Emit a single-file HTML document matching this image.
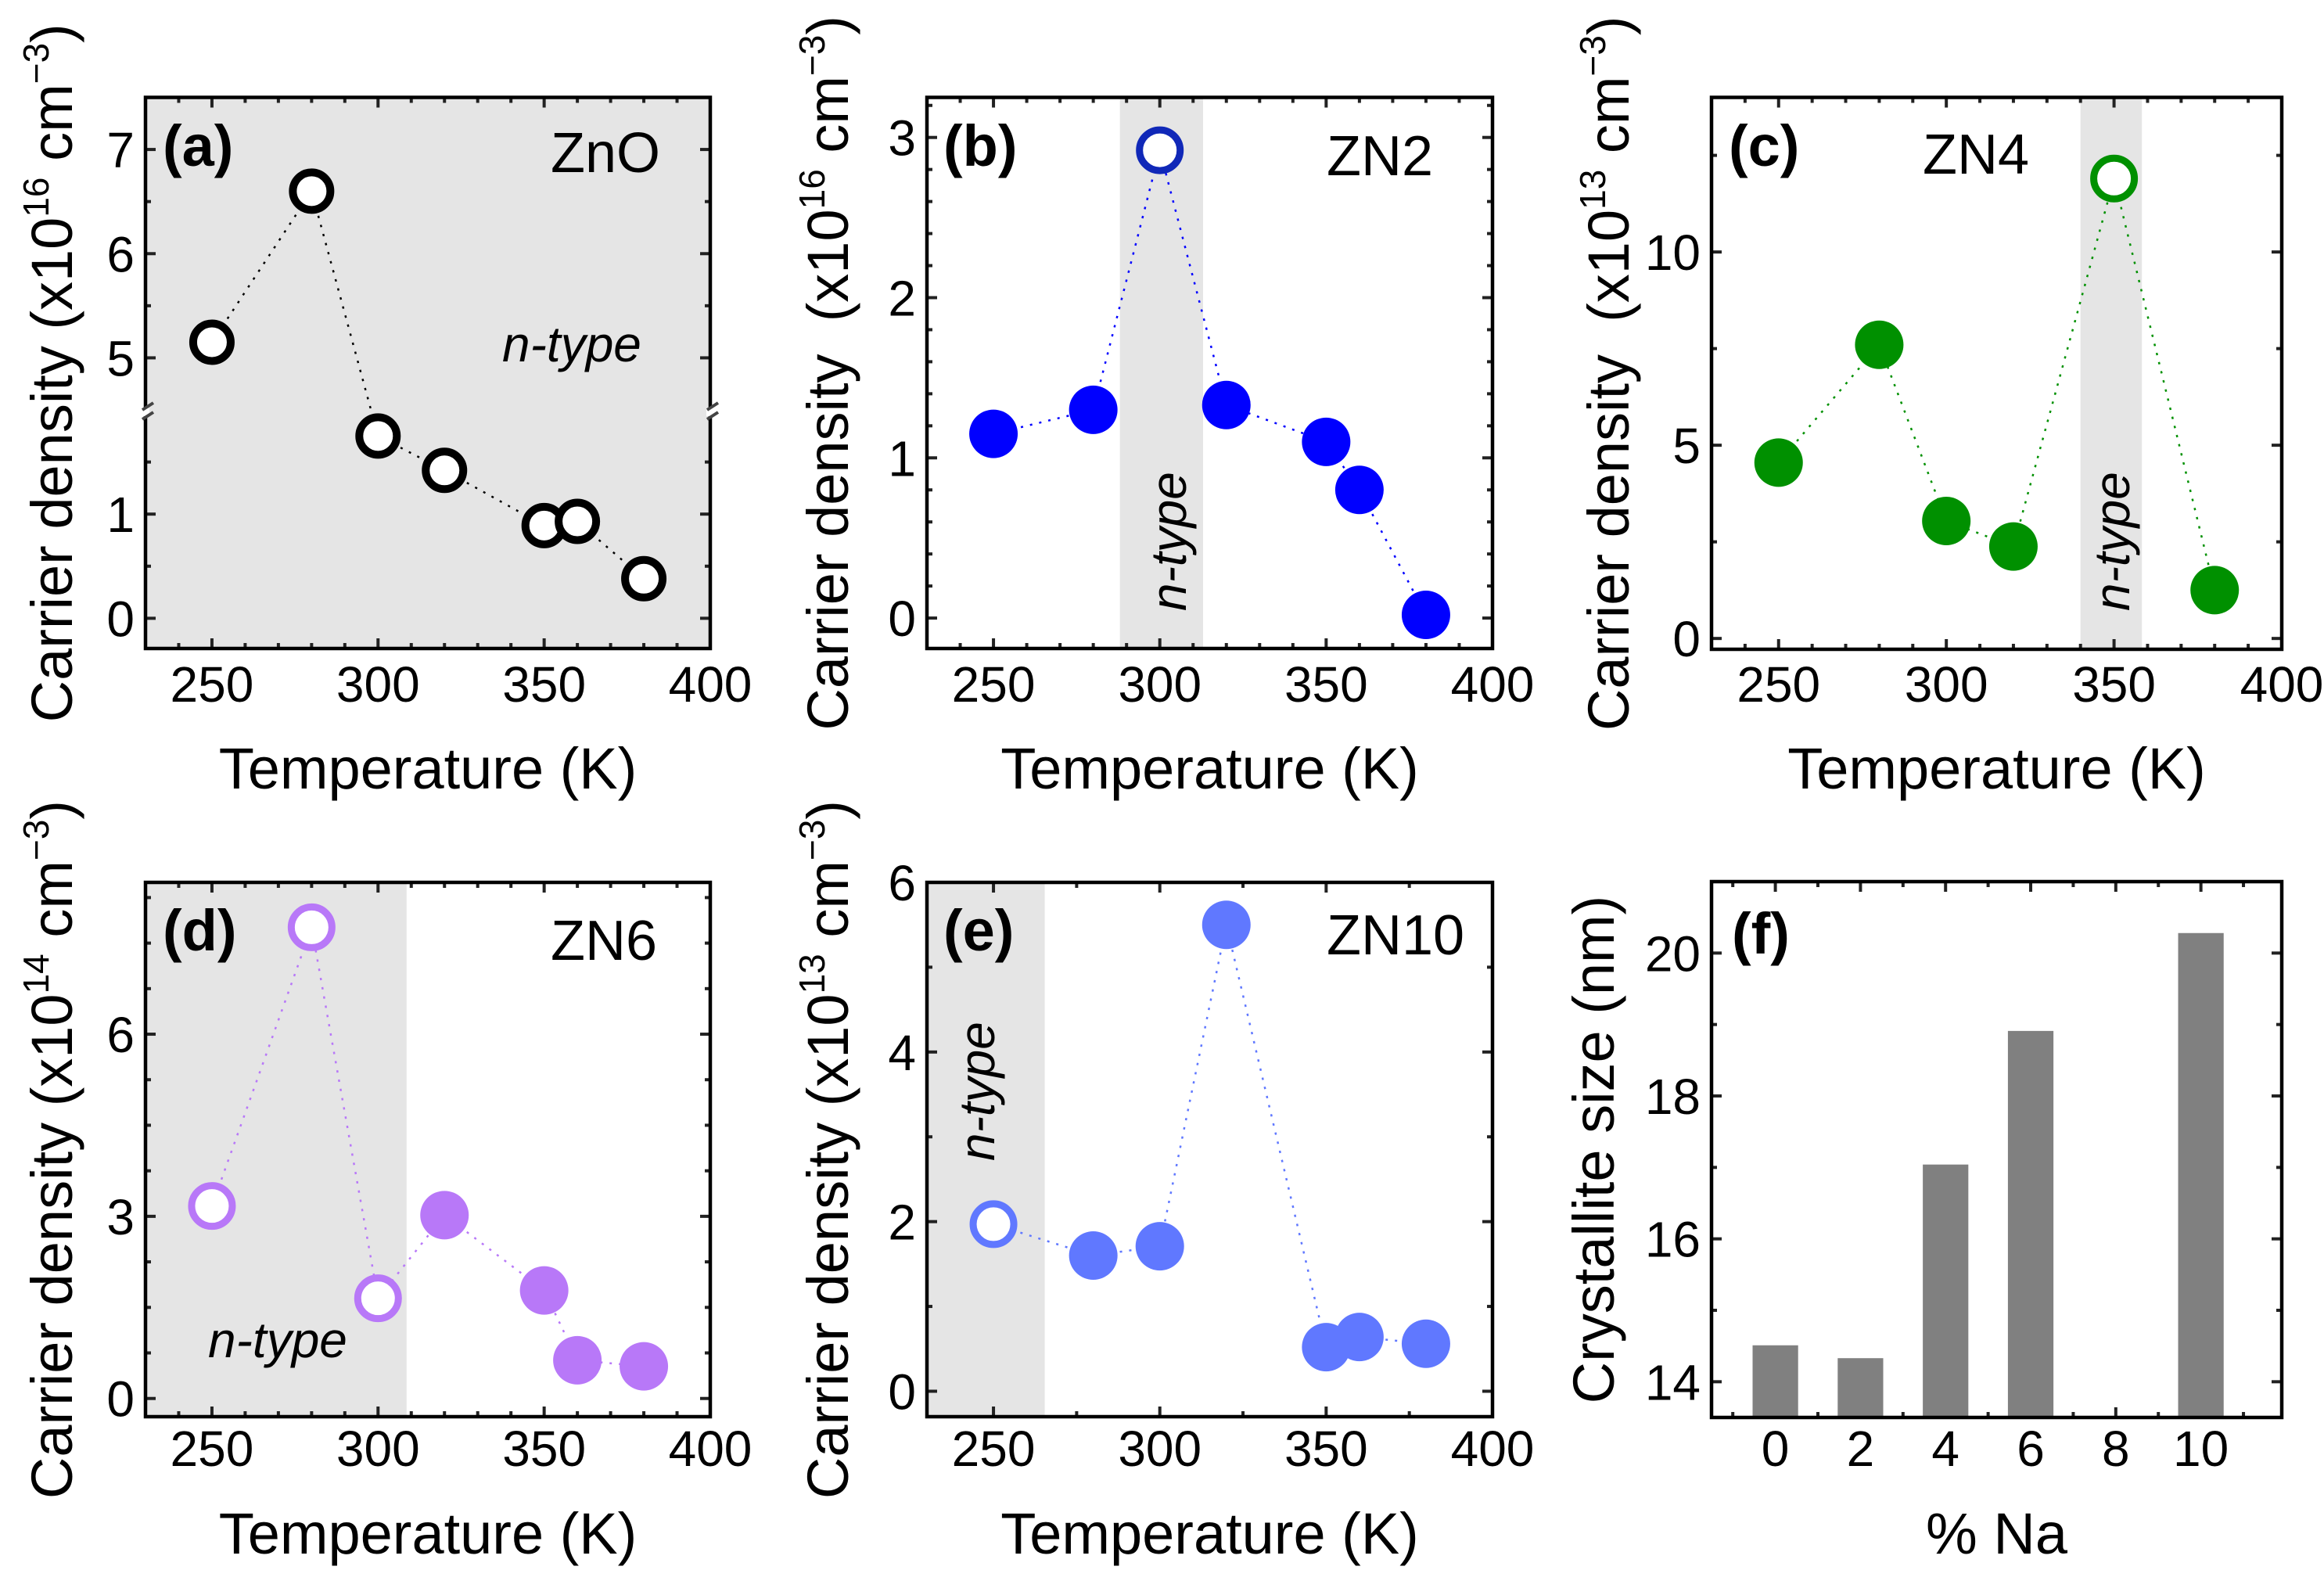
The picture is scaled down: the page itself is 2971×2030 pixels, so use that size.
<!DOCTYPE html>
<html><head><meta charset="utf-8"><style>
html,body{margin:0;padding:0;background:#fff;}
svg{display:block;font-family:"Liberation Sans",Arial,sans-serif;}
</style></head><body>
<svg id="fig" width="2971" height="2030" viewBox="0 0 2971 2030" xmlns="http://www.w3.org/2000/svg"></svg>
<script>
// ---- data ----
const temps = [250, 280, 300, 320, 350, 360, 380];
const tempsC = [250, 280, 300, 320, 350, 380];
const densA = [5.15, 6.6, 1.75, 1.42, 0.89, 0.93, 0.38];
const openA = [1, 1, 1, 1, 1, 1, 1];
const densB = [1.15, 1.3, 2.92, 1.33, 1.1, 0.8, 0.02];
const openB = [0, 0, 1, 0, 0, 0, 0];
const densC = [4.55, 7.6, 3.04, 2.38, 11.9, 1.25];
const openC = [0, 0, 0, 0, 1, 0];
const densD = [3.17, 7.76, 1.65, 3.02, 1.78, 0.63, 0.53];
const openD = [1, 1, 1, 0, 0, 0, 0];
const densE = [1.97, 1.6, 1.71, 5.5, 0.52, 0.64, 0.56];
const openE = [1, 0, 0, 0, 0, 0, 0];
const naPct = [0, 2, 4, 6, 10];
const crystSize = [14.51, 14.33, 17.04, 18.91, 20.28];
const tempTicks = [250, 300, 350, 400];
const yTicksA = [0, 1, 5, 6, 7];
const yTicksB = [0, 1, 2, 3];
const yTicksC = [0, 5, 10];
const yTicksD = [0, 3, 6];
const yTicksE = [0, 2, 4, 6];
const yTicksF = [14, 16, 18, 20];
const naTicks = [0, 2, 4, 6, 8, 10];

const NS = "http://www.w3.org/2000/svg";
const svg = document.getElementById('fig');
function el(tag, attrs, parent) {
  const e = document.createElementNS(NS, tag);
  for (const k in attrs) e.setAttribute(k, attrs[k]);
  (parent || svg).appendChild(e);
  return e;
}
function lin(d0, d1, r0, r1) { return v => r0 + (v - d0) / (d1 - d0) * (r1 - r0); }

function panel(p) {
  const g = el('g', {});
  
  
  const sx = lin(p.xr[0], p.xr[1], p.x0, p.x1);
  const syl = lin(p.yr[0], p.yr[1], p.y1, p.y0);
  const sy = v => syl(p.ymap ? p.ymap(v) : v);
  if (p.shade) {
    const a = Math.max(p.x0, sx(p.shade[0])), b = Math.min(p.x1, sx(p.shade[1]));
    const sh = el('rect', {x: a, y: p.y0, width: b - a, height: p.y1 - p.y0, fill: '#e5e5e5'}, g);
    
    
  }
  const xs = Math.ceil(p.xr[0] / p.xMinor) * p.xMinor;
  for (let v = xs; v <= p.xr[1] + 1e-6; v += p.xMinor) {
    const major = Math.abs(v / p.xMajor - Math.round(v / p.xMajor)) < 1e-6;
    const L = major ? 13 : 7, x = sx(v);
    el('line', {x1: x, x2: x, y1: p.y1, y2: p.y1 - L, stroke: '#222', 'stroke-width': 4}, g);
    el('line', {x1: x, x2: x, y1: p.y0, y2: p.y0 + L, stroke: '#222', 'stroke-width': 4}, g);
  }
  p.yMinorList.forEach(v => {
    const major = p.yTicks.indexOf(v) >= 0;
    const L = major ? 13 : 7, y = sy(v);
    el('line', {x1: p.x0, x2: p.x0 + L, y1: y, y2: y, stroke: '#222', 'stroke-width': 4}, g);
    el('line', {x1: p.x1, x2: p.x1 - L, y1: y, y2: y, stroke: '#222', 'stroke-width': 4}, g);
  });
  p.xTicks.forEach(v => {
    const t = el('text', {x: sx(v), y: p.xLabY, 'font-size': 64, 'text-anchor': 'middle'}, g);
    
    
    t.textContent = v;
  });
  p.yTicks.forEach(v => {
    const t = el('text', {x: p.x0 - 14, y: sy(v) + 23, 'font-size': 64, 'text-anchor': 'end'}, g);
    
    
    t.textContent = v;
  });
  if (p.bars) {
    p.bars.x.forEach((v, i) => {
      const w = sx(v + 0.535) - sx(v - 0.535);
      const r = el('rect', {x: sx(v) - w / 2, y: sy(p.bars.y[i]), width: w, height: p.y1 - sy(p.bars.y[i]), fill: '#808080'}, g);
      
      
    });
  }
  if (p.series) {
    const s = p.series;
    const pts = s.x.map((v, i) => sx(v) + ',' + sy(s.y[i])).join(' ');
    const pl = el('polyline', {points: pts, fill: 'none', stroke: s.color, 'stroke-width': 2.5, 'stroke-dasharray': '3 9'}, g);
    
    
    s.x.forEach((v, i) => {
      let c;
      if (s.open[i]) c = el('circle', {cx: sx(v), cy: sy(s.y[i]), r: s.openR, fill: '#fff', stroke: s.openColor || s.color, 'stroke-width': s.openW}, g);
      else c = el('circle', {cx: sx(v), cy: sy(s.y[i]), r: 31, fill: s.color}, g);
      
      
    });
  }
  const fr = el('rect', {x: p.x0, y: p.y0, width: p.x1 - p.x0, height: p.y1 - p.y0, fill: 'none', stroke: '#000', 'stroke-width': 4.5}, g);
  
  
  if (p.breakY) {
    [p.x0, p.x1].forEach(x => {
      el('rect', {x: x - 5, y: p.breakY - 5, width: 10, height: 10, fill: '#fff'}, g);
      el('line', {x1: x - 4, y1: p.breakY - 3, x2: x + 10, y2: p.breakY - 12, stroke: '#444', 'stroke-width': 4}, g);
      el('line', {x1: x - 4, y1: p.breakY + 9, x2: x + 10, y2: p.breakY, stroke: '#444', 'stroke-width': 4}, g);
    });
  }
  const lab = el('text', {x: p.labX, y: p.labY, 'font-size': 74, 'font-weight': 'bold'}, g);
  
  
  lab.textContent = p.label;
  if (p.sample) {
    const st = el('text', {x: p.sample[0], y: p.sample[1], 'font-size': 72}, g);
    
    
    st.textContent = p.sample[2];
  }
  if (p.ntype) {
    const n = p.ntype;
    const nt = el('text', {x: 0, y: 0, 'font-size': 64, 'font-style': 'italic', transform: 'translate(' + n[0] + ',' + n[1] + ')' + (n[2] ? ' rotate(-90)' : '')}, g);
    
    
    nt.textContent = 'n-type';
  }
  const xt = el('text', {x: (p.x0 + p.x1) / 2, y: p.xTitleY, 'font-size': 74, 'text-anchor': 'middle'}, g);
  
  
  xt.textContent = p.xTitle;
  const yt = el('text', {x: 0, y: 0, 'font-size': 74, 'text-anchor': 'middle', transform: 'translate(' + p.yTitleX + ',' + (p.y0 + p.y1) / 2 + ') rotate(-90)'}, g);
  
  
  if (p.exp) {
    yt.innerHTML = 'Carrier density ' + (p.dbl ? '\u00a0' : '') + '(x10<tspan font-size="46" dy="-30">' + p.exp + '</tspan><tspan dy="30"> cm</tspan><tspan font-size="46" dy="-30">\u22123</tspan><tspan dy="30">)</tspan>';
  } else yt.textContent = p.yTitle;
}
function range(a, b, s) { const r = []; for (let v = a; v <= b + 1e-6; v += s) r.push(Math.round(v * 1000) / 1000); return r; }

panel({name: 'panel-a-zno', x0: 186, x1: 908, y0: 124.5, y1: 829, xr: [230, 400], yr: [-0.29, 5.0],
  ymap: v => v > 3 ? v - 2.5 : v, breakY: 527,
  xMinor: 10, xMajor: 50, xTicks: tempTicks, yTicks: yTicksA, yMinorList: [0, 0.5, 1, 1.5, 5, 5.5, 6, 6.5, 7],
  shade: [230, 400], series: {x: temps, y: densA, open: openA, color: '#000', openR: 24, openW: 10},
  label: '(a)', labX: 208, labY: 212, sample: [704, 220, 'ZnO'], ntype: [642, 462, false],
  xLabY: 897, xTitleY: 1008, xTitle: 'Temperature (K)', yTitleX: 92, exp: '16'});
panel({name: 'panel-b-zn2', x0: 1185, x1: 1908, y0: 124.5, y1: 829, xr: [230, 400], yr: [-0.19, 3.25],
  xMinor: 10, xMajor: 50, xTicks: tempTicks, yTicks: yTicksB, yMinorList: range(0, 3.2, 0.2),
  shade: [288, 313], series: {x: temps, y: densB, open: openB, color: '#0000ff', openColor: '#1028b8', openR: 26, openW: 9},
  label: '(b)', labX: 1206, labY: 212, sample: [1696, 224, 'ZN2'], ntype: [1516, 781, true],
  xLabY: 897, xTitleY: 1008, xTitle: 'Temperature (K)', yTitleX: 1084, exp: '16', dbl: true});
panel({name: 'panel-c-zn4', x0: 2188, x1: 2917, y0: 124.5, y1: 830, xr: [230, 400], yr: [-0.28, 14.0],
  xMinor: 10, xMajor: 50, xTicks: tempTicks, yTicks: yTicksC, yMinorList: range(0, 12.5, 2.5),
  shade: [340, 358.3], series: {x: tempsC, y: densC, open: openC, color: '#009000', openR: 26, openW: 9},
  label: '(c)', labX: 2210, labY: 212, sample: [2458, 222, 'ZN4'], ntype: [2722, 781, true],
  xLabY: 897, xTitleY: 1008, xTitle: 'Temperature (K)', yTitleX: 2082, exp: '13', dbl: true});
panel({name: 'panel-d-zn6', x0: 186, x1: 908, y0: 1128, y1: 1811, xr: [230, 400], yr: [-0.3, 8.5],
  xMinor: 10, xMajor: 50, xTicks: tempTicks, yTicks: yTicksD, yMinorList: range(0, 8.25, 0.75),
  shade: [230, 308.6], series: {x: temps, y: densD, open: openD, color: '#b878f8', openR: 26, openW: 9},
  label: '(d)', labX: 208, labY: 1215, sample: [704, 1227, 'ZN6'], ntype: [266, 1735, false],
  xLabY: 1874, xTitleY: 1986, xTitle: 'Temperature (K)', yTitleX: 92, exp: '14'});
panel({name: 'panel-e-zn10', x0: 1185, x1: 1908, y0: 1128, y1: 1811, xr: [230, 400], yr: [-0.3, 6],
  xMinor: 25, xMajor: 50, xTicks: tempTicks, yTicks: yTicksE, yMinorList: range(0, 6, 1),
  shade: [230, 265.4], series: {x: temps, y: densE, open: openE, color: '#6078ff', openR: 26, openW: 9},
  label: '(e)', labX: 1206, labY: 1215, sample: [1696, 1220, 'ZN10'], ntype: [1271, 1484, true],
  xLabY: 1874, xTitleY: 1986, xTitle: 'Temperature (K)', yTitleX: 1084, exp: '13'});
panel({name: 'panel-f-crystallite', x0: 2188, x1: 2917, y0: 1127, y1: 1812, xr: [-1.5, 11.9], yr: [13.5, 21.0],
  xMinor: 1, xMajor: 2, xTicks: naTicks, yTicks: yTicksF, yMinorList: range(14, 21, 1),
  bars: {x: naPct, y: crystSize},
  label: '(f)', labX: 2214, labY: 1219,
  xLabY: 1874, xTitleY: 1986, xTitle: '% Na', yTitleX: 2063, yTitle: 'Crystallite size (nm)'});
</script>
</body></html>
